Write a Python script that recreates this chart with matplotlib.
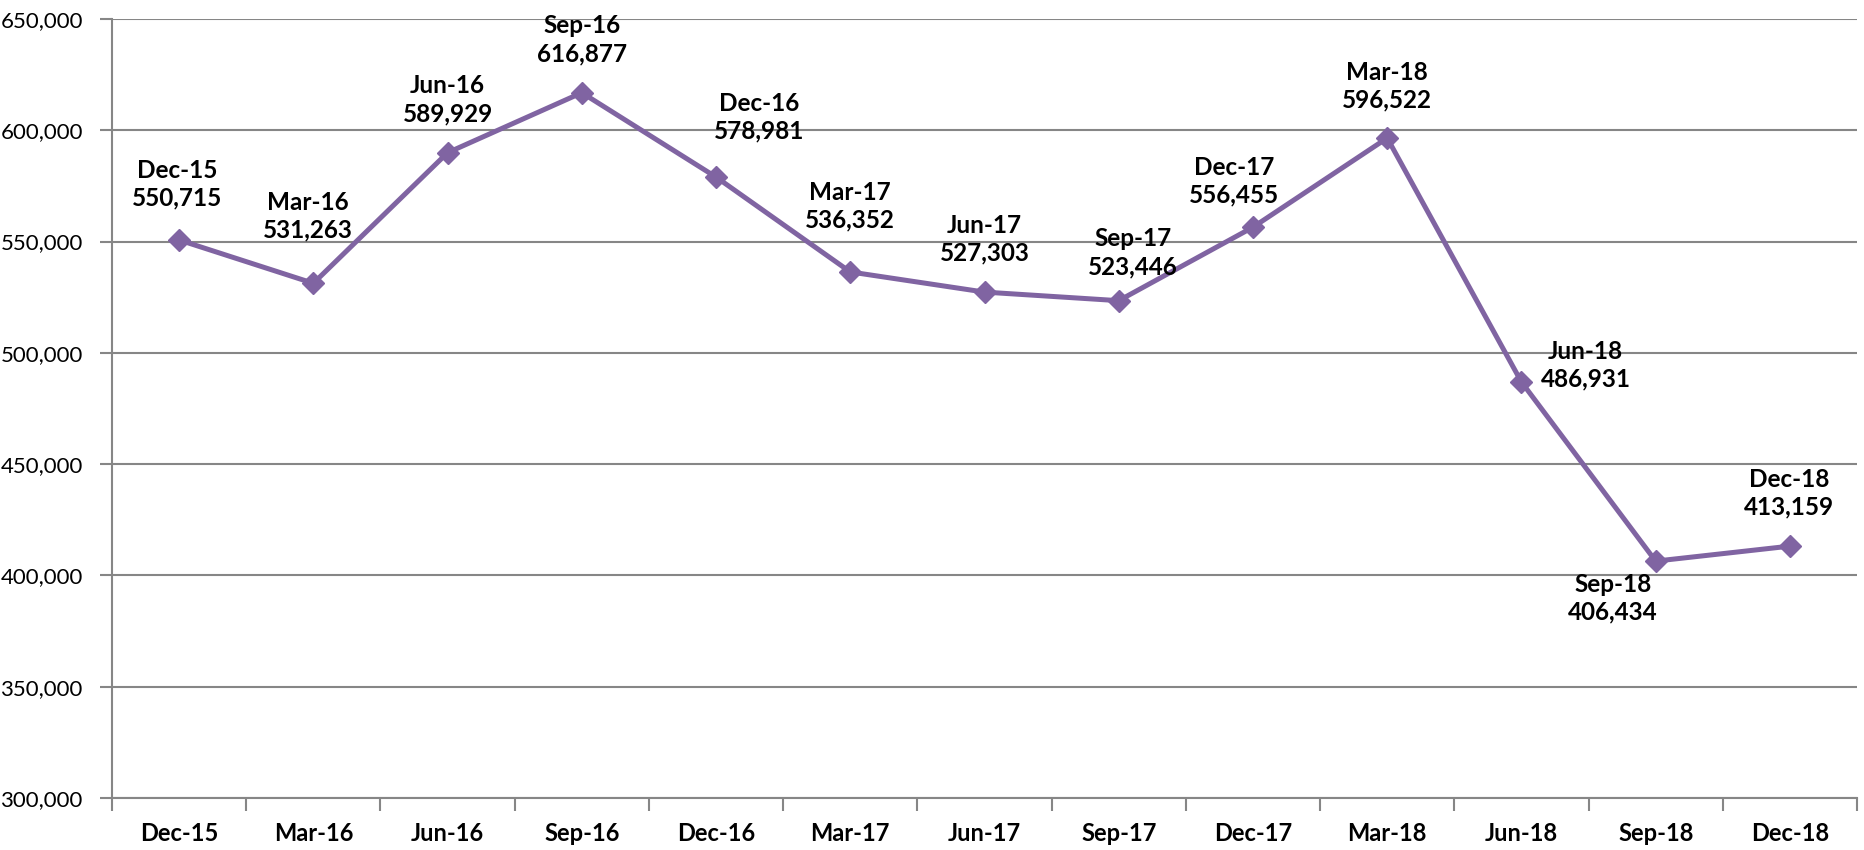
import matplotlib.pyplot as plt
import numpy as np

# Quarterly values
quarters = ["Dec-15", "Mar-16", "Jun-16", "Sep-16", "Dec-16", "Mar-17", "Jun-17",
            "Sep-17", "Dec-17", "Mar-18", "Jun-18", "Sep-18", "Dec-18"]
values = [550715, 531263, 589929, 616877, 578981, 536352, 527303,
          523446, 556455, 596522, 486931, 406434, 413159]
y_ticks = [300000, 350000, 400000, 450000, 500000, 550000, 600000, 650000]

# label offsets in pixels (dx, dy) from each point to the label centre
label_offsets = [(-2, 56), (-6, 67), (0, 53), (0, 53), (43, 60), (0, 66), (0, 53),
                 (14, 48), (-19, 46), (0, 52), (64, 17), (-43, -37), (-1, 53)]

purple = "#8064A2"
grey = "#868686"
plt.rcParams["font.family"] = ["Lato", "DejaVu Sans"]

fig = plt.figure(figsize=(18.64, 8.5), dpi=100)
ax = fig.add_axes([112 / 1864, 1 - 798 / 850, (1857 - 112) / 1864, (798 - 19) / 850])

x = np.arange(len(quarters))
ax.plot(x, values, color=purple, linewidth=3.6, marker="D", markersize=11,
        zorder=3)

# Data labels: quarter name over the value
for xi, v, q, (dx, dy) in zip(x, values, quarters, label_offsets):
    ax.annotate(f"{q}\n{v:,}", (xi, v), xytext=(dx, dy),
                textcoords="offset pixels", ha="center", va="center",
                fontsize=17.5, fontweight="bold", linespacing=1.25, zorder=4)

ax.set_xlim(-0.5, len(quarters) - 0.5)
ax.set_ylim(300000, 650000)

# Category labels sit between the tick marks
ax.set_xticks(x)
ax.set_xticklabels(quarters, fontsize=17, fontweight="bold")
ax.set_xticks(np.arange(-0.5, len(quarters)), minor=True)
ax.tick_params(axis="x", which="major", length=0, pad=17)
ax.tick_params(axis="x", which="minor", length=9, width=1.5, color=grey)

ax.set_yticks(y_ticks)
ax.set_yticklabels([f"{t:,}" for t in y_ticks], fontsize=16)
ax.tick_params(axis="y", length=9, width=1.5, color=grey, pad=12)

ax.grid(axis="y", color=grey, linewidth=1.5, zorder=0)
ax.set_axisbelow(True)
for side in ["top", "right"]:
    ax.spines[side].set_visible(False)
for side in ["left", "bottom"]:
    ax.spines[side].set_color(grey)
    ax.spines[side].set_linewidth(1.5)

fig.savefig("out.png", dpi=100)
